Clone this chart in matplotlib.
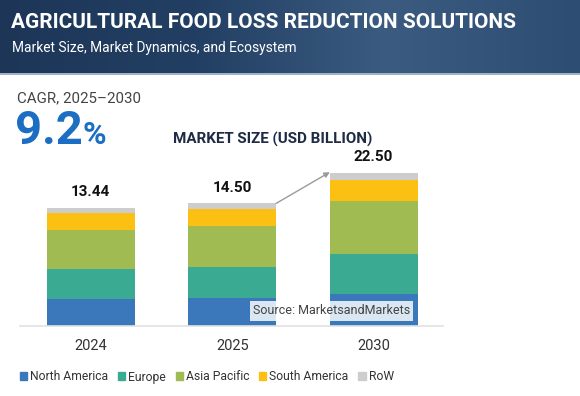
import numpy as np
import matplotlib.pyplot as plt
from matplotlib.patches import Patch
from matplotlib.colors import LinearSegmentedColormap

plt.rcParams['font.family'] = ['Roboto', 'DejaVu Sans']

# data (USD billion)
years = ['2024', '2025', '2030']
totals = [13.44, 14.50, 22.50]
regions = ['North America', 'Europe', 'Asia Pacific', 'South America', 'RoW']
north_america = [0.68, 0.77, 1.00]
europe = [2.40, 2.61, 4.01]
asia_pacific = [5.77, 6.19, 10.04]
south_america = [3.35, 3.56, 5.42]
row = [1.24, 1.37, 2.03]
colors = ['#3a78bb', '#3aaa92', '#9fbb51', '#fbc012', '#cdcdcd']

W, H = 580, 396
fig = plt.figure(figsize=(W / 100, H / 100), dpi=100)

# header band
hdr = fig.add_axes([0, 1 - 73 / H, 1, 73 / H])
cmap = LinearSegmentedColormap.from_list('hdr', ['#1d3658', '#223f63', '#3b5b80', '#2e4d72'])
hdr.imshow(np.linspace(0, 1, 256)[None, :], aspect='auto', cmap=cmap, extent=[0, 1, 0, 1])
hdr.set_xlim(0, 1)
hdr.set_ylim(0, 1)
hdr.axis('off')
fig.add_artist(plt.Rectangle((0, 1 - 75 / H), 1, 2 / H, transform=fig.transFigure,
                             color='#9fb3c8', lw=0))
fig.text(11 / W, 1 - 22 / H, 'AGRICULTURAL FOOD LOSS REDUCTION SOLUTIONS', color='white',
         fontsize=15, fontweight='bold', va='center', ha='left')
fig.text(12 / W, 1 - 48 / H, 'Market Size, Market Dynamics, and Ecosystem', color='white',
         fontsize=9.9, va='center', ha='left')

# CAGR block
fig.text(17 / W, 1 - 98 / H, 'CAGR, 2025\u20132030', color='#444444', fontsize=10.9,
         va='center', ha='left')
fig.text(15 / W, 1 - 131 / H, '9.2', color='#1b6ec2', fontsize=34, fontweight='bold',
         va='center', ha='left')
fig.text(82 / W, 1 - 135 / H, '%', color='#1b6ec2', fontsize=23, fontweight='bold',
         va='center', ha='left')
fig.text(173 / W, 1 - 139 / H, 'MARKET SIZE (USD BILLION)', color='#1d2b45', fontsize=10.9,
         fontweight='bold', va='center', ha='left')

# bars on a square-root scale
ax = fig.add_axes([20 / W, 70 / H, 423 / W, 176 / H])
ax.set_yscale('function', functions=(lambda v: np.sqrt(np.clip(v, 0, None)), lambda v: v ** 2))
series = [north_america, europe, asia_pacific, south_america, row]
x = np.arange(len(years))
bottom = np.zeros(len(years))
for vals, c, name in zip(series, colors, regions):
    ax.bar(x, vals, bottom=bottom, width=0.62, color=c, label=name)
    bottom += np.array(vals)
for xi, t in zip(x, totals):
    ax.annotate(f'{t:.2f}', (xi, t), xytext=(0, 6), textcoords='offset points',
                ha='center', va='bottom', fontsize=11, fontweight='bold', color='#111111')
ax.annotate('', xy=(2 - 0.31, totals[2] + 0.2), xytext=(1 + 0.31, totals[1] - 0.1),
            arrowprops=dict(arrowstyle='-|>', color='#9a9a9a', lw=1, mutation_scale=8,
                            shrinkA=0, shrinkB=0))
ax.set_xlim(-0.5, 2.49)
ax.set_ylim(0, 29.7)
ax.set_xticks(x, years)
ax.tick_params(axis='x', length=0, pad=9, labelsize=10.5, labelcolor='#333333')
ax.set_yticks([])
for s in ['top', 'right', 'left']:
    ax.spines[s].set_visible(False)
ax.spines['bottom'].set_color('#e2e2e2')
ax.spines['bottom'].set_linewidth(1.2)

fig.text(253 / W, 1 - 311 / H, 'Source: MarketsandMarkets', color='#444444', fontsize=9,
         va='center', ha='left',
         bbox=dict(boxstyle='square,pad=0.25', facecolor='white', alpha=0.82, edgecolor='none'))

handles = [Patch(color=c) for c in colors]
fig.legend(handles, regions, loc='center left', bbox_to_anchor=(9 / W, 1 - 377 / H), ncol=5,
           frameon=False, fontsize=8.7, handlelength=0.6, handleheight=0.6,
           handletextpad=0.25, columnspacing=0.8, labelcolor='#333333')

fig.savefig('out.png', dpi=100)
